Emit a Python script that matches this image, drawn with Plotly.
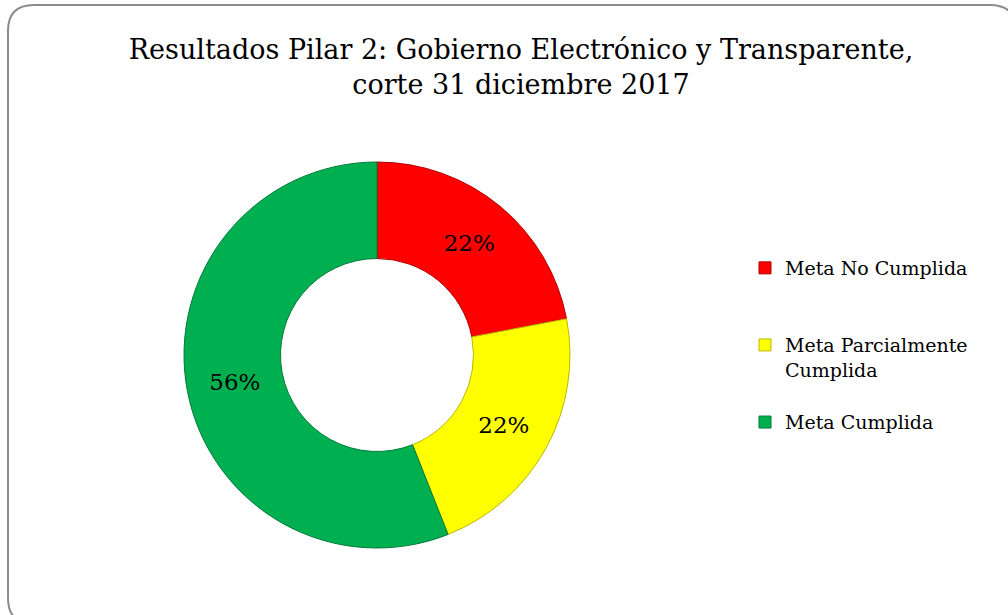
import plotly.graph_objects as go

labels = ["Meta No Cumplida<br> <br> ", "Meta Parcialmente<br>Cumplida<br> ", "Meta Cumplida"]
values = [22, 22, 56]
colors = ["#FF0000", "#FFFF00", "#00B050"]
line_colors = ["#B00000", "#B8B800", "#007A38"]
title_text = "Resultados Pilar 2: Gobierno Electrónico y Transparente,<br>corte 31 diciembre 2017"

W, H = 1008, 615
FONT = "DejaVu Serif"

def px(x):
    return x / W

def py(y):
    return 1 - y / H

fig = go.Figure()
fig.add_trace(go.Pie(
    labels=labels,
    values=values,
    hole=0.5,
    sort=False,
    direction="clockwise",
    rotation=0,
    marker=dict(colors=colors, line=dict(color=line_colors, width=1)),
    textinfo="percent",
    texttemplate="%{percent:.0%}",
    textposition="inside",
    insidetextorientation="horizontal",
    textfont=dict(family=FONT, size=23, color="black"),
    domain=dict(x=[px(184), px(570)], y=[py(548), py(162)]),
    hoverinfo="label+percent",
))

# rounded frame (partially cropped at right/bottom like the reference)
x0, y0, x1, y1, r = 8, 5, 1016, 624, 26
path = (
    f"M {px(x0 + r)} {py(y0)} L {px(x1 - r)} {py(y0)} "
    f"Q {px(x1)} {py(y0)} {px(x1)} {py(y0 + r)} "
    f"L {px(x1)} {py(y1 - r)} Q {px(x1)} {py(y1)} {px(x1 - r)} {py(y1)} "
    f"L {px(x0 + r)} {py(y1)} Q {px(x0)} {py(y1)} {px(x0)} {py(y1 - r)} "
    f"L {px(x0)} {py(y0 + r)} Q {px(x0)} {py(y0)} {px(x0 + r)} {py(y0)} Z"
)

fig.update_layout(
    width=W,
    height=H,
    margin=dict(l=0, r=0, t=0, b=0),
    paper_bgcolor="white",
    plot_bgcolor="white",
    font=dict(family=FONT, color="black"),
    title=dict(
        text=title_text,
        x=px(521),
        xanchor="center",
        y=py(59),
        yanchor="top",
        font=dict(family=FONT, size=27, color="black"),
    ),
    showlegend=True,
    legend=dict(
        x=px(745),
        xanchor="left",
        y=py(249),
        yanchor="top",
        valign="top",
        font=dict(family=FONT, size=19, color="black"),
        itemwidth=30,
        traceorder="normal",
        bgcolor="rgba(0,0,0,0)",
    ),
    shapes=[dict(
        type="path",
        xref="paper",
        yref="paper",
        path=path,
        line=dict(color="#8C8C8C", width=2),
        fillcolor="rgba(0,0,0,0)",
        layer="below",
    )],
)

fig.write_html(
    "out.html",
    config={"displayModeBar": False},
    post_script="document.body.style.margin='0px';document.body.style.overflow='hidden';",
)
